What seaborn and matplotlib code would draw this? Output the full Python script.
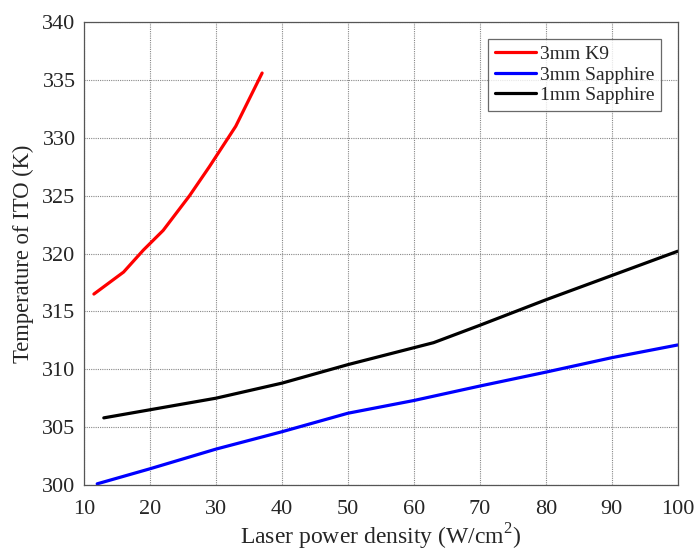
import numpy as np
import pandas as pd
import matplotlib
matplotlib.use("Agg")
import matplotlib.pyplot as plt
import seaborn as sns

# Laser power density (W/cm^2) and ITO temperature (K) for each substrate
k9_power = [11.5, 16, 19, 22, 26, 29, 33, 37]
k9_temp = [316.5, 318.4, 320.3, 322.0, 325.0, 327.5, 331.0, 335.6]

sapphire3_power = [12, 20, 30, 40, 50, 60, 70, 80, 90, 100]
sapphire3_temp = [300.1, 301.4, 303.1, 304.6, 306.2, 307.3, 308.55, 309.75, 311.0, 312.1]

sapphire1_power = [13, 20, 30, 40, 50, 63, 70, 80, 90, 100]
sapphire1_temp = [305.8, 306.5, 307.5, 308.8, 310.4, 312.3, 313.8, 316.0, 318.1, 320.2]

series_names = ["3mm K9", "3mm Sapphire", "1mm Sapphire"]
series_colors = ["#ff0000", "#0000ff", "#000000"]

x_ticks = [10, 20, 30, 40, 50, 60, 70, 80, 90, 100]
y_ticks = [300, 305, 310, 315, 320, 325, 330, 335, 340]

frames = []
for name, px, ty in zip(series_names,
                        [k9_power, sapphire3_power, sapphire1_power],
                        [k9_temp, sapphire3_temp, sapphire1_temp]):
    frames.append(pd.DataFrame({"power": px, "temp": ty, "sample": name}))
df = pd.concat(frames, ignore_index=True)

sns.set_style("white")
plt.rcParams["font.family"] = ["Liberation Serif", "DejaVu Serif"]
plt.rcParams["mathtext.fontset"] = "custom"
plt.rcParams["mathtext.rm"] = "Liberation Serif"

fig = plt.figure(figsize=(6.96, 5.53), dpi=100)
ax = fig.add_axes([0.1207, 0.123, 0.853, 0.837])

sns.lineplot(data=df, x="power", y="temp", hue="sample", hue_order=series_names,
             palette=series_colors, linewidth=2.3, sort=False, estimator=None,
             ax=ax, legend=True)

ax.set_xlim(10, 100)
ax.set_ylim(300, 340)
ax.set_xticks(x_ticks)
ax.set_yticks(y_ticks)
ax.tick_params(axis="both", labelsize=16, direction="in", length=4,
               color="#333333")
ax.tick_params(axis="x", pad=11)
ax.tick_params(axis="y", pad=6)
ax.grid(True, linestyle=(0, (1, 1)), color="#888888", linewidth=0.8)
for s in ax.spines.values():
    s.set_color("#555555")
    s.set_linewidth(0.9)

ax.set_xlabel("Laser power density (W/cm$^2$)", fontsize=17, labelpad=2)
ax.set_ylabel("Temperature of ITO (K)", fontsize=16.3, labelpad=6)

leg = ax.legend(loc="upper right", fontsize=14, frameon=True, fancybox=False,
                borderaxespad=0.85, handlelength=2.1, handletextpad=0.2,
                borderpad=0.35, labelspacing=0.15)
leg.get_frame().set_edgecolor("#444444")
leg.get_frame().set_linewidth(0.9)

fig.savefig("out.png", dpi=100)
